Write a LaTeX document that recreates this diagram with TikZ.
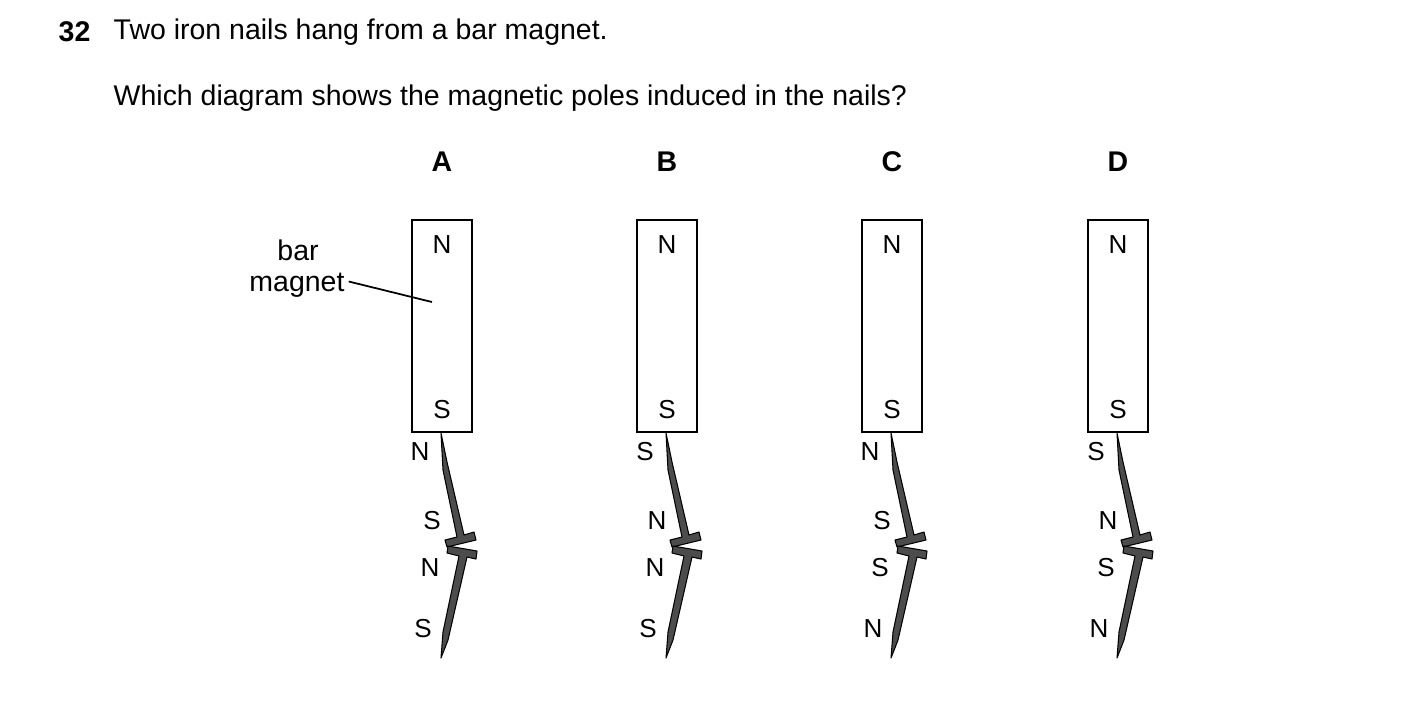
\documentclass[tikz,border=0pt]{standalone}
\usepackage{fontspec}
\setmainfont{Liberation Sans}
\begin{document}
\begin{tikzpicture}[x=0.01cm,y=-0.01cm,
 txt/.style={font=\fontsize{8.1}{9.7}\selectfont,inner sep=0},
 pole/.style={font=\fontsize{7.4}{8.9}\selectfont,inner sep=0},
 nail/.style={fill=black!70,draw=black,line width=0.3pt,line join=round},
 mag/.style={draw,line width=0.7pt}]
\useasboundingbox (0,0) rectangle (1403,708);
\node[txt,font=\fontsize{8.1}{9.7}\selectfont\bfseries,anchor=west] (q) at (58,32) {32};
\node[txt,anchor=west] (t1) at (113,32) {Two iron nails hang from a bar magnet.};
\node[txt,anchor=west] (t2) at (113,98) {Which diagram shows the magnetic poles induced in the nails?};
\node[txt] (bl1) at (298,250) {bar};
\node[txt] (bl2) at (297,285) {magnet};
\coordinate (lp) at (432,302);
\draw[line width=0.5pt] (bl2.east)++(1pt,1pt) -- (lp);
\foreach \L/\cx/\a/\b/\c/\d in {A/442/N/S/N/S, B/667/S/N/N/S, C/892/N/S/S/N, D/1118/S/N/S/N}{
 \begin{scope}[xshift=(\cx-442)*0.01cm]
  \node[txt,font=\fontsize{8.1}{9.7}\selectfont\bfseries] (h\L) at (442,162) {\L};
  \node[mag,minimum width=60*0.01cm,minimum height=212*0.01cm,inner sep=0] (m\L) at (442,326) {};
  \node[pole] (n\L) at (442,245) {N};
  \node[pole] (s\L) at (442,410) {S};
  \draw[nail] (441,433) -- (447,462) -- (464,535) -- (474,532) -- (476,540) -- (447,547) -- (445,540) -- (457,537) -- (443,470) -- cycle;
  \draw[nail] (448,546) -- (477,551) -- (476,559) -- (467,557) -- (448,640) -- (441,658) -- (443,632) -- (459,556) -- (447,553) -- cycle;
  \node[pole] (p1\L) at (420,452) {\a};
  \node[pole] (p2\L) at (432,521) {\b};
  \node[pole] (p3\L) at (430,568) {\c};
  \node[pole] (p4\L) at (423,629) {\d};
 \end{scope}}
\end{tikzpicture}
\end{document}
